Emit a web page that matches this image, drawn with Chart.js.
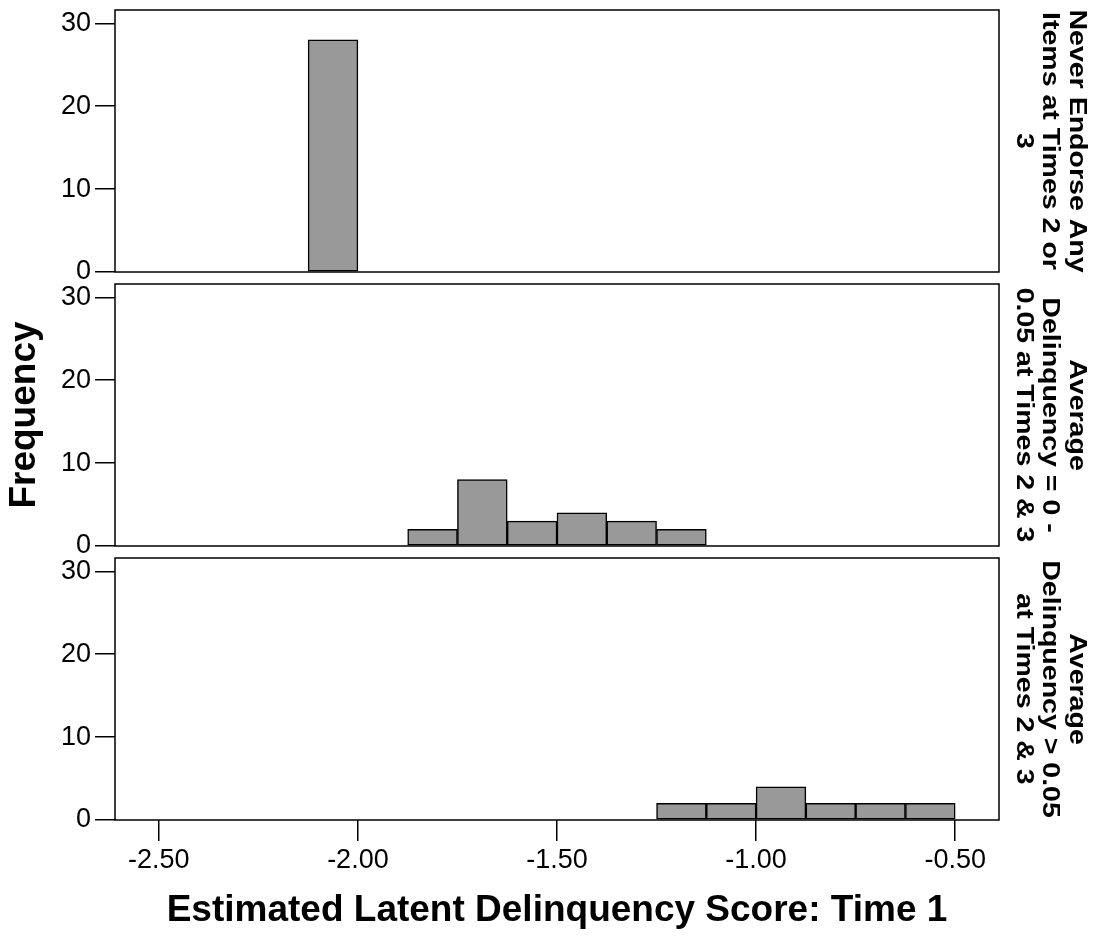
<!DOCTYPE html>
<html>
<head>
<meta charset="utf-8">
<title>Estimated Latent Delinquency Score: Time 1</title>
<script src="https://cdn.jsdelivr.net/npm/chart.js@4.4.1/dist/chart.umd.min.js"></script>
<style>
  html, body { margin: 0; padding: 0; background: #fff; }
  #wrap { position: relative; width: 1095px; height: 936px; overflow: hidden; }
  canvas { position: absolute; left: 0; }
</style>
</head>
<body>
<div id="wrap">
  <canvas id="panelNever" width="1095" height="290" style="top:0px"></canvas>
  <canvas id="panelLow" width="1095" height="290" style="top:274px"></canvas>
  <canvas id="panelHigh" width="1095" height="388" style="top:548px"></canvas>
</div>
<script>
const FONT = "'Liberation Sans', Arial, Helvetica, sans-serif"

// histogram bins (width 0.125), given by their centres
const binCenters = [-2.0625, -1.9375, -1.8125, -1.6875, -1.5625, -1.4375, -1.3125,
  -1.1875, -1.0625, -0.9375, -0.8125, -0.6875, -0.5625]

// frequencies per bin for each group
const countsNever = [28, 0, 0, 0, 0, 0, 0, 0, 0, 0, 0, 0, 0]
const countsLow = [0, 0, 2, 8, 3, 4, 3, 2, 0, 0, 0, 0, 0]
const countsHigh = [0, 0, 0, 0, 0, 0, 0, 2, 2, 4, 2, 2, 2]

const xTickValues = [-2.5, -2.0, -1.5, -1.0, -0.5]
const yTickValues = [0, 10, 20, 30]

const labelsNever = ["Never Endorse Any", "Items at Times 2 or", "3"]
const labelsLow = ["Average", "Delinquency = 0 -", "0.05 at Times 2 & 3"]
const labelsHigh = ["Average", "Delinquency > 0.05", "at Times 2 & 3"]

const X_MIN = -2.61
const X_MAX = -0.39
const Y_MAX = 31.6

// box around each panel's plot area
const frame = {
  id: "frame",
  afterDatasetsDraw(chart) {
    const { ctx, chartArea: a } = chart
    ctx.save()
    ctx.strokeStyle = "#000"
    ctx.lineWidth = 1.5
    ctx.strokeRect(a.left, a.top, a.right - a.left, a.bottom - a.top)
    ctx.restore()
  },
}

// rotated group label on the right of a panel
const stripLabel = (lines) => ({
  id: "stripLabel",
  afterDraw(chart) {
    const { ctx, chartArea: a } = chart
    ctx.save()
    ctx.fillStyle = "#000"
    ctx.font = "bold 23px " + FONT
    ctx.textAlign = "center"
    ctx.textBaseline = "alphabetic"
    ctx.translate(a.right + 71, (a.top + a.bottom) / 2)
    ctx.rotate(Math.PI / 2)
    ctx.scale(1.24, 1)
    lines.forEach((line, i) => ctx.fillText(line, 0, i * 26.7))
    ctx.restore()
  },
})

function makePanel(id, counts, labels, showXAxis, showYTitle) {
  const points = binCenters.map((x, i) => ({ x, y: counts[i] }))
  return new Chart(document.getElementById(id), {
    type: "bar",
    data: {
      datasets: [{
        data: points,
        backgroundColor: "#999999",
        borderColor: "#000",
        borderWidth: 1.5,
        borderSkipped: false,
        barPercentage: 1,
        categoryPercentage: 1,
      }],
    },
    options: {
      responsive: false,
      animation: false,
      devicePixelRatio: 1,
      layout: { padding: { top: 10, right: 96, bottom: showXAxis ? 0 : 18, left: 0 } },
      plugins: { legend: { display: false }, tooltip: { enabled: false } },
      scales: {
        x: {
          type: "linear",
          min: X_MIN,
          max: X_MAX,
          display: showXAxis,
          offset: false,
          afterBuildTicks: (s) => { s.ticks = xTickValues.map((v) => ({ value: v })) },
          afterFit: (s) => {
            s.height = showXAxis ? 116 : 0
            s.paddingLeft = 0
            s.paddingRight = 0
          },
          grid: { offset: false, drawOnChartArea: false, color: "#000", lineWidth: 1.5, tickLength: 21 },
          border: { display: false },
          ticks: {
            color: "#000",
            font: { family: FONT, size: 27 },
            padding: 3,
            maxRotation: 0,
            autoSkip: false,
            callback: (v) => Number(v).toFixed(2),
          },
          title: {
            display: true,
            text: "Estimated Latent Delinquency Score: Time 1",
            color: "#000",
            font: { family: FONT, size: 37, weight: "bold" },
            padding: { top: 0, bottom: 3 },
          },
        },
        y: {
          min: 0,
          max: Y_MAX,
          afterBuildTicks: (s) => { s.ticks = yTickValues.map((v) => ({ value: v })) },
          afterFit: (s) => { s.width = 115; s.paddingTop = 0; s.paddingBottom = 0 },
          grid: { drawOnChartArea: false, color: "#000", lineWidth: 1.5, tickLength: 20 },
          border: { display: false },
          ticks: { color: "#000", font: { family: FONT, size: 27 }, padding: 4 },
          title: {
            display: showYTitle,
            text: "Frequency",
            color: "#000",
            font: { family: FONT, size: 37, weight: "bold" },
            padding: { top: 3, bottom: 0 },
          },
        },
      },
    },
    plugins: [frame, stripLabel(labels)],
  })
}

makePanel("panelNever", countsNever, labelsNever, false, false)
makePanel("panelLow", countsLow, labelsLow, false, true)
makePanel("panelHigh", countsHigh, labelsHigh, true, false)
</script>
</body>
</html>
